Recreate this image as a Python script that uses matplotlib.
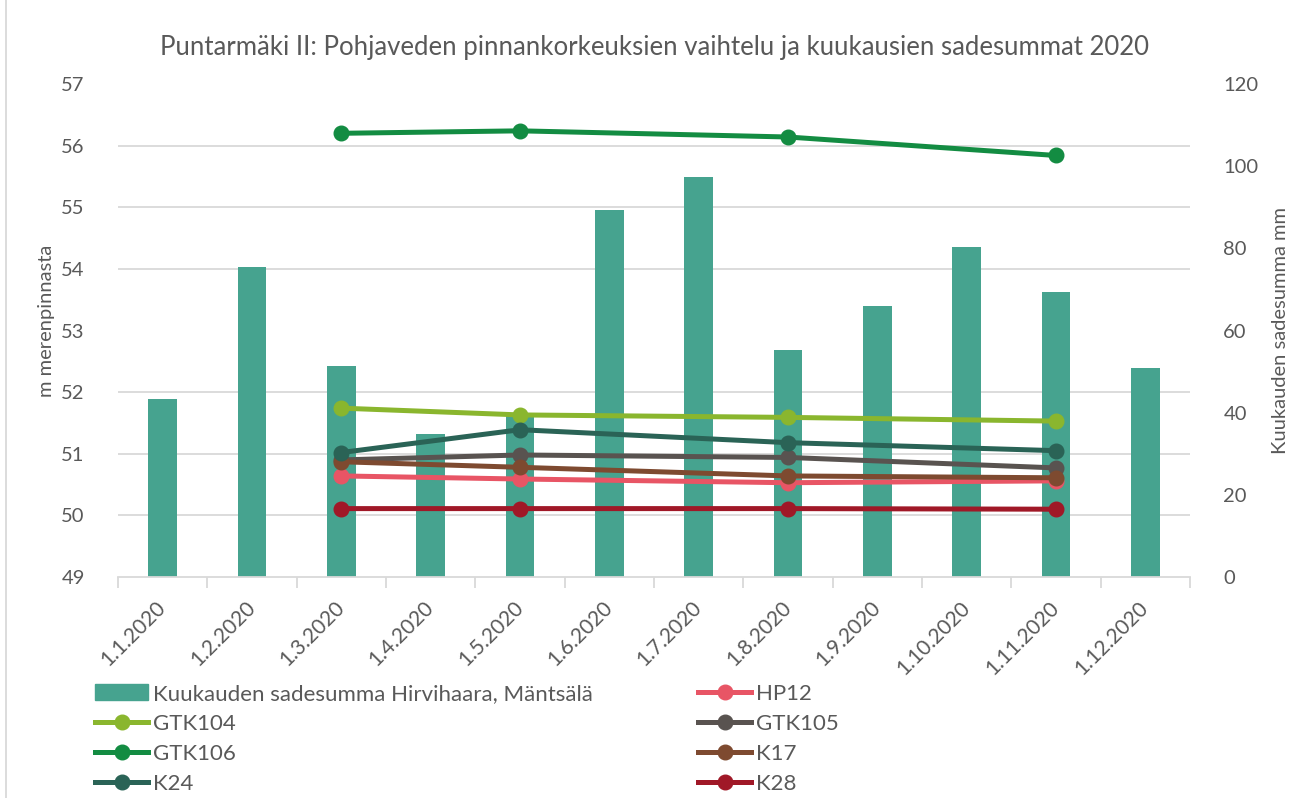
import numpy as np
import matplotlib
matplotlib.use("Agg")
import matplotlib.pyplot as plt
from matplotlib.ticker import MultipleLocator
from matplotlib.lines import Line2D
from matplotlib.patches import Patch, Rectangle

plt.rcParams['font.family'] = ['Lato', 'DejaVu Sans']

# data
months = ['1.1.2020', '1.2.2020', '1.3.2020', '1.4.2020', '1.5.2020', '1.6.2020',
          '1.7.2020', '1.8.2020', '1.9.2020', '1.10.2020', '1.11.2020', '1.12.2020']
rain = [43.3, 75.4, 51.4, 34.8, 40.0, 89.3, 97.4, 55.3, 66.0, 80.4, 69.3, 50.9]
rain_label = 'Kuukauden sadesumma Hirvihaara, Mäntsälä'

meas_idx = [2, 4, 7, 10]  # 1.3, 1.5, 1.8, 1.11
hp12 = [50.64, 50.59, 50.53, 50.56]
gtk104 = [51.74, 51.63, 51.59, 51.53]
gtk105 = [50.90, 50.98, 50.94, 50.77]
gtk106 = [56.20, 56.24, 56.14, 55.84]
k17 = [50.87, 50.78, 50.64, 50.61]
k24 = [51.02, 51.39, 51.18, 51.05]
k28 = [50.11, 50.11, 50.11, 50.10]

series = [
    ('HP12', hp12, '#E85565'),
    ('GTK104', gtk104, '#8AB62E'),
    ('GTK105', gtk105, '#595350'),
    ('GTK106', gtk106, '#138C42'),
    ('K17', k17, '#7E4A30'),
    ('K24', k24, '#2A6356'),
    ('K28', k28, '#A01827'),
]

txt = '#595959'
grid_c = '#D9D9D9'

fig = plt.figure(figsize=(12.91, 7.98), dpi=100)
ax = fig.add_axes([118/1291, 1 - 577/798, 1072/1291, 493/798])
ax2 = ax.twinx()

x = np.arange(len(months))

# bars on the secondary axis, kept behind the lines
ax2.bar(x, rain, width=0.32, color='#46A38F', zorder=3)
ax2.set_ylim(0, 120)
ax2.yaxis.set_major_locator(MultipleLocator(20))
# gridlines follow the left axis (1 m = 15 mm)
ax2.yaxis.set_minor_locator(MultipleLocator(15))
ax2.grid(which='minor', axis='y', color=grid_c, linewidth=1.3, zorder=0)
ax2.tick_params(axis='y', which='both', length=0, pad=24, labelsize=14.5, labelcolor=txt)
ax2.set_ylabel('Kuukauden sadesumma mm', fontsize=14.5, color=txt)
ax2.yaxis.set_label_coords(1.0765, 0.5)

ax.set_zorder(ax2.get_zorder() + 1)
ax.patch.set_visible(False)

for name, vals, col in series:
    ax.plot(meas_idx, vals, '-o', color=col, linewidth=3.6, markersize=10.5,
            solid_capstyle='round', label=name)

ax.set_ylim(49, 57)
ax.set_xlim(-0.5, len(months) - 0.5)
ax.yaxis.set_major_locator(MultipleLocator(1))
ax.tick_params(axis='y', length=0, pad=24, labelsize=14.5, labelcolor=txt)
ax.set_ylabel('m merenpinnasta', fontsize=14.5, color=txt)
ax.yaxis.set_label_coords(-0.0588, 0.52)

ax.set_xticks(x)
ax.set_xticklabels(months, rotation=45, ha='right', va='center',
                   rotation_mode='anchor', fontsize=15, color=txt)
ax.tick_params(axis='x', which='major', length=0, pad=20)
ax.set_xticks(np.arange(-0.5, len(months)), minor=True)
ax.tick_params(axis='x', which='minor', length=8, color=grid_c, width=1.3)

for a in (ax, ax2):
    for s in ('top', 'left', 'right'):
        a.spines[s].set_visible(False)
ax2.spines['bottom'].set_visible(False)
ax.spines['bottom'].set_color(grid_c)
ax.spines['bottom'].set_linewidth(1.3)

fig.text(654/1291, 1 - 47/798, 'Puntarmäki II: Pohjaveden pinnankorkeuksien vaihtelu ja kuukausien sadesummat 2020',
         ha='center', va='center', fontsize=18.5, color=txt)

# legend in two columns, as in the reference
def line_handle(col):
    return Line2D([], [], color=col, linewidth=3.6, marker='o', markersize=10.5)

cols = dict((n, c) for n, _, c in series)
left_h = [Patch(color='#46A38F'), line_handle(cols['GTK104']),
          line_handle(cols['GTK106']), line_handle(cols['K24'])]
left_l = [rain_label, 'GTK104', 'GTK106', 'K24']
right_h = [line_handle(cols[n]) for n in ('HP12', 'GTK105', 'K17', 'K28')]
right_l = ['HP12', 'GTK105', 'K17', 'K28']

common = dict(loc='upper left', frameon=False, fontsize=16, labelcolor=txt,
              handlelength=2.4, handletextpad=0.2, labelspacing=0.45,
              borderpad=0, borderaxespad=0)
fig.legend(left_h, left_l, bbox_to_anchor=(95/1291, 1 - 684/798), **common)
fig.legend(right_h, right_l, bbox_to_anchor=(698/1291, 1 - 684/798), **common)

fig.patches.append(Rectangle((6/1291, -0.01), 1.02, 1.02, transform=fig.transFigure,
                             fill=False, edgecolor=grid_c, linewidth=1.3))

fig.savefig('out.png', dpi=100)
